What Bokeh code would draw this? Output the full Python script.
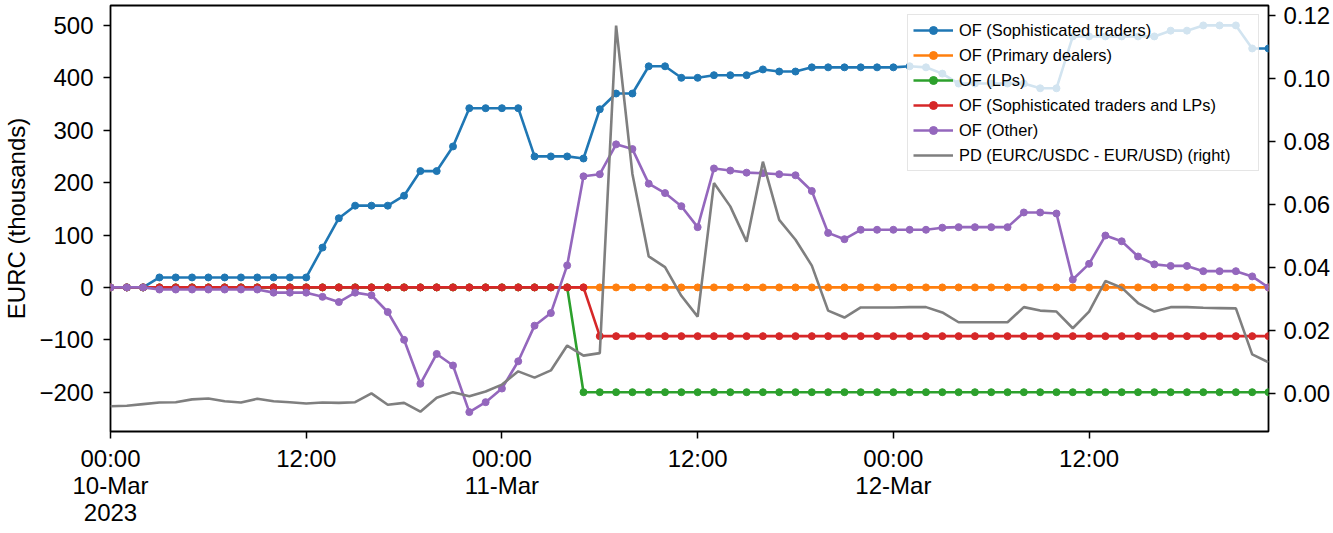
import pandas as pd
from bokeh.plotting import figure
from bokeh.models import (ColumnDataSource, Range1d, LinearAxis, FixedTicker,
                          CustomJSTickFormatter, NumeralTickFormatter, Legend, LegendItem)
from bokeh.embed import file_html
from bokeh.resources import INLINE

times = pd.date_range("2023-03-10 00:00", periods=72, freq="h")

sophisticated = [0, 0, 0, 19, 19, 19, 19, 19, 19, 19, 19, 19, 19, 76, 132, 156, 156, 156, 175, 222,
                 222, 269, 342, 342, 342, 342, 250, 250, 250, 246, 340, 370, 370, 422, 422, 400, 400, 405, 405, 405,
                 416, 412, 412, 420, 420, 420, 420, 420, 420, 422, 420, 408, 389, 389, 389, 389, 389, 380, 380, 479,
                 479, 479, 479, 479, 479, 490, 490, 500, 500, 500, 456, 456]
primary = [0] * 72
lps = [0] * 29 + [-200] * 43
soph_lps = [0] * 30 + [-93] * 42
other = [0, 0, 0, -4, -4, -4, -4, -4, -4, -4, -10, -10, -10, -18, -28, -10, -15, -47, -100, -184,
         -127, -149, -238, -219, -193, -141, -73, -49, 42, 212, 216, 273, 264, 198, 180, 155, 115, 227, 223, 219,
         218, 216, 214, 184, 104, 92, 110, 110, 110, 110, 110, 114, 115, 115, 115, 115, 143, 143, 141, 15,
         45, 99, 88, 59, 44, 41, 41, 31, 31, 31, 21, 0]
pd_spread = [-0.0041, -0.0039, -0.0034, -0.0029, -0.0028, -0.0019, -0.0016, -0.0025, -0.0029, -0.0017,
             -0.0025, -0.0028, -0.0032, -0.0029, -0.0030, -0.0028, 0.0000, -0.0036, -0.0030, -0.0058,
             -0.0014, 0.0004, -0.0009, 0.0006, 0.0028, 0.0070, 0.0050, 0.0073, 0.0152, 0.0120,
             0.0128, 0.1168, 0.0697, 0.0435, 0.0401, 0.0310, 0.0244, 0.0668, 0.0594, 0.0482,
             0.0736, 0.0551, 0.0488, 0.0406, 0.0263, 0.0241, 0.0273, 0.0273, 0.0273, 0.0274,
             0.0274, 0.0257, 0.0226, 0.0226, 0.0226, 0.0226, 0.0274, 0.0263, 0.0260, 0.0207,
             0.0260, 0.0357, 0.0336, 0.0287, 0.0260, 0.0274, 0.0274, 0.0272, 0.0271, 0.0270,
             0.0124, 0.0099]

series = [
    ("OF (Sophisticated traders)", sophisticated, "#1f77b4"),
    ("OF (Primary dealers)", primary, "#ff7f0e"),
    ("OF (LPs)", lps, "#2ca02c"),
    ("OF (Sophisticated traders and LPs)", soph_lps, "#d62728"),
    ("OF (Other)", other, "#9467bd"),
]
pd_label = "PD (EURC/USDC - EUR/USD) (right)"

FONT = "Liberation Sans"

p = figure(width=1333, height=533, x_axis_type="datetime", output_backend="svg",
           toolbar_location=None,
           x_range=Range1d(times[0], times[-1]), y_range=Range1d(-275, 538),
           min_border_left=110, min_border_right=65, min_border_top=5, min_border_bottom=102)
p.extra_y_ranges = {"right": Range1d(-0.0121, 0.1232)}

p.xgrid.visible = False
p.ygrid.visible = False
p.outline_line_color = "black"
p.outline_line_width = 1.8
p.background_fill_color = "white"
p.border_fill_color = "white"

items = []
for name, vals, color in series:
    src = ColumnDataSource(dict(x=times, y=vals))
    lr = p.line("x", "y", source=src, line_color=color, line_width=2.6)
    sr = p.scatter("x", "y", source=src, size=7, fill_color=color, line_color=color)
    items.append(LegendItem(label=name, renderers=[lr, sr]))

src_pd = ColumnDataSource(dict(x=times, y=pd_spread))
gr = p.line("x", "y", source=src_pd, line_color="#7f7f7f", line_width=2.6, y_range_name="right")
items.append(LegendItem(label=pd_label, renderers=[gr]))

# axes styling
xa = p.xaxis[0]
xa.ticker = FixedTicker(ticks=[times[i].value // 10**6 for i in (0, 12, 24, 36, 48, 60)])
xa.formatter = CustomJSTickFormatter(code="""
const d = new Date(tick);
const hh = String(d.getUTCHours()).padStart(2, '0');
const mm = String(d.getUTCMinutes()).padStart(2, '0');
let s = hh + ':' + mm;
if (d.getUTCHours() === 0) {
  const mons = ['Jan','Feb','Mar','Apr','May','Jun','Jul','Aug','Sep','Oct','Nov','Dec'];
  s += '\\n' + String(d.getUTCDate()).padStart(2, '0') + '-' + mons[d.getUTCMonth()];
  if (index === 0) { s += '\\n' + d.getUTCFullYear(); }
}
return s;
""")

ya = p.yaxis[0]
ya.ticker = FixedTicker(ticks=[-200, -100, 0, 100, 200, 300, 400, 500])
ya.major_label_overrides = {-200: "\u2212200", -100: "\u2212100"}
ya.axis_label = "EURC (thousands)"
ya.axis_label_text_font_style = "normal"

ra = LinearAxis(y_range_name="right", ticker=FixedTicker(ticks=[0.0, 0.02, 0.04, 0.06, 0.08, 0.10, 0.12]),
                formatter=NumeralTickFormatter(format="0.00"))
p.add_layout(ra, "right")

for ax in (xa, ya, ra):
    ax.major_label_text_font = FONT
    ax.major_label_text_font_size = "24px"
    ax.major_label_text_color = "black"
    ax.axis_label_text_font = FONT
    ax.axis_label_text_font_size = "24px"
    ax.axis_label_text_color = "black"
    ax.axis_line_color = None
    ax.major_tick_line_color = "black"
    ax.major_tick_line_width = 1.5
    ax.major_tick_out = 7
    ax.major_tick_in = 0
    ax.minor_tick_line_color = None
    ax.major_label_standoff = 8
xa.major_label_standoff = 6
xa.major_label_text_line_height = 1.0
ya.major_label_standoff = 10
ya.axis_label_standoff = 6

legend = Legend(items=items, location="top_right")
legend.label_text_font = FONT
legend.label_text_font_size = "16.4px"
legend.label_text_color = "black"
legend.glyph_width = 40
legend.glyph_height = 20
legend.label_height = 20
legend.label_width = 294
legend.spacing = 5
legend.padding = 5
legend.margin = 9
legend.label_standoff = 6
legend.background_fill_alpha = 0.8
legend.border_line_color = "#cccccc"
legend.border_line_width = 1.5
p.add_layout(legend)

open("out.html", "w").write(file_html(p, INLINE))
